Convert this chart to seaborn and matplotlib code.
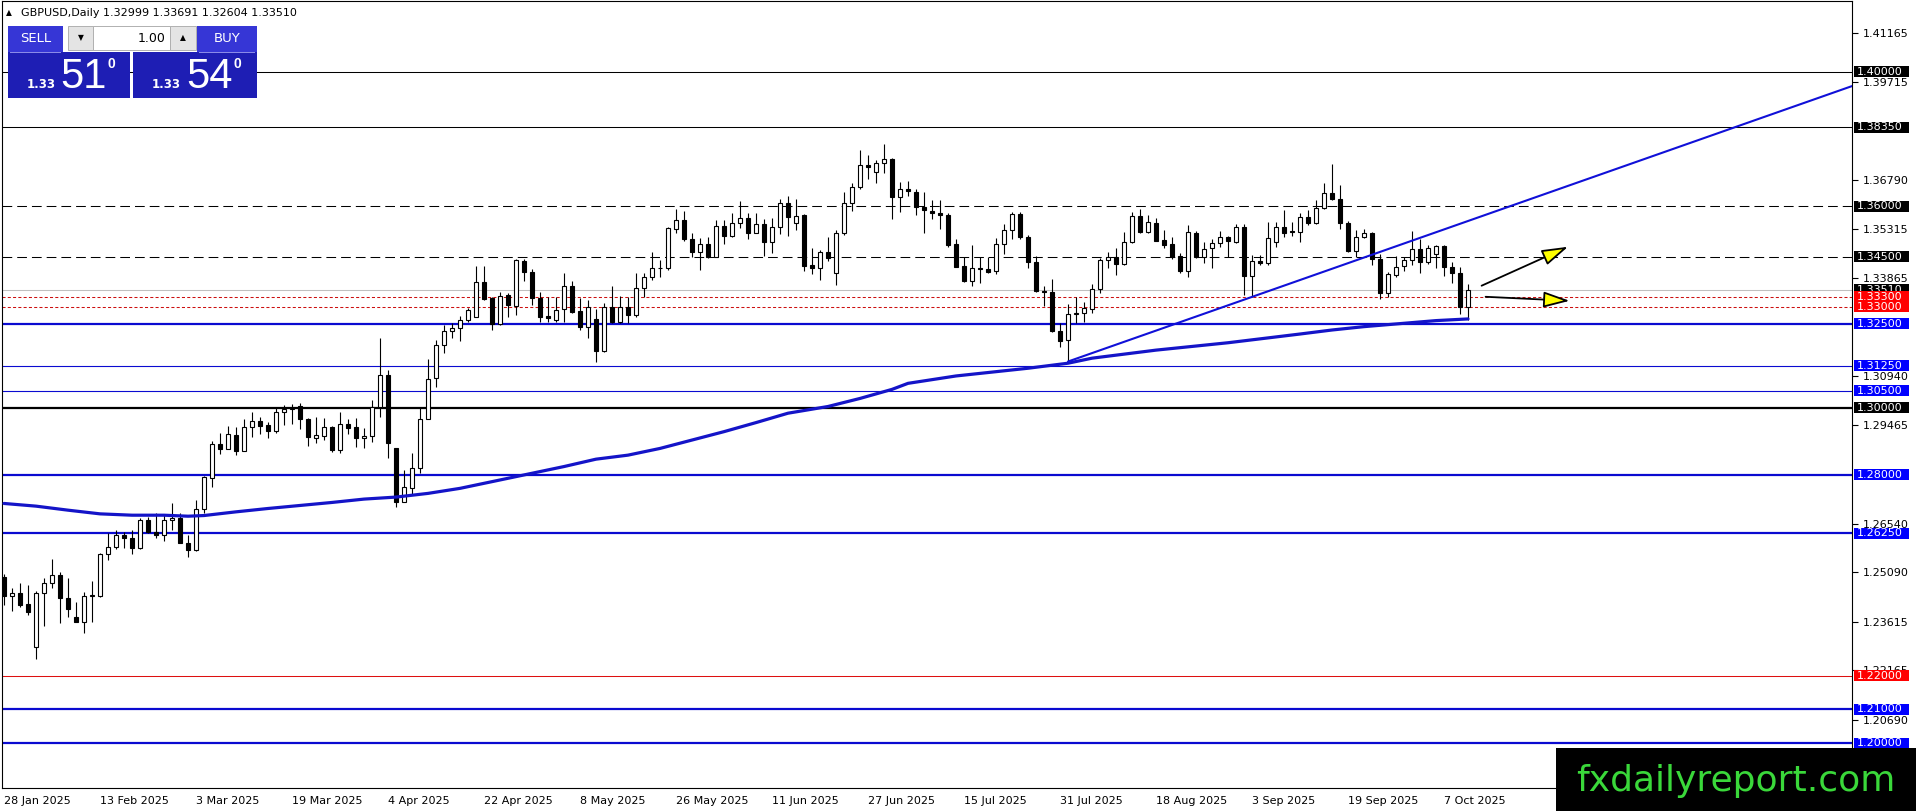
import numpy as np
import seaborn as sns
import matplotlib
matplotlib.use("Agg")
import matplotlib.pyplot as plt
import matplotlib.transforms as mtransforms
from matplotlib.patches import Rectangle

# GBPUSD daily candles, 28 Jan 2025 .. 10 Oct 2025 (one per weekday)
opens = [1.2496, 1.2439, 1.2446, 1.2414, 1.2285, 1.2446, 1.2476, 1.2500, 1.2431, 1.2377,
         1.2362, 1.2439, 1.2439, 1.2563, 1.2583, 1.2619, 1.2610, 1.2580, 1.2665, 1.2630,
         1.2620, 1.2665, 1.2670, 1.2595, 1.2575, 1.2696, 1.2789, 1.2890, 1.2875, 1.2918,
         1.2871, 1.2941, 1.2960, 1.2947, 1.2931, 1.2987, 1.2997, 1.3003, 1.2966, 1.2908,
         1.2916, 1.2942, 1.2872, 1.2950, 1.2943, 1.2910, 1.2916, 1.3001, 1.3097, 1.2880,
         1.2717, 1.2759, 1.2819, 1.2965, 1.3089, 1.3186, 1.3228, 1.3238, 1.3260, 1.3269,
         1.3373, 1.3325, 1.3249, 1.3335, 1.3303, 1.3437, 1.3403, 1.3327, 1.3272, 1.3261,
         1.3294, 1.3363, 1.3288, 1.3241, 1.3263, 1.3169, 1.3301, 1.3256, 1.3301, 1.3276,
         1.3355, 1.3390, 1.3415, 1.3415, 1.3531, 1.3559, 1.3501, 1.3464, 1.3487, 1.3450,
         1.3541, 1.3511, 1.3549, 1.3564, 1.3521, 1.3547, 1.3494, 1.3539, 1.3609, 1.3551,
         1.3574, 1.3425, 1.3415, 1.3462, 1.3400, 1.3519, 1.3609, 1.3658, 1.3723, 1.3703,
         1.3728, 1.3740, 1.3628, 1.3650, 1.3643, 1.3599, 1.3586, 1.3581, 1.3574, 1.3486,
         1.3421, 1.3378, 1.3417, 1.3413, 1.3408, 1.3486, 1.3529, 1.3577, 1.3507, 1.3433,
         1.3348, 1.3345, 1.3229, 1.3201, 1.3279, 1.3281, 1.3293, 1.3352, 1.3440, 1.3448,
         1.3428, 1.3494, 1.3571, 1.3524, 1.3551, 1.3499, 1.3487, 1.3452, 1.3408, 1.3521,
         1.3448, 1.3475, 1.3491, 1.3507, 1.3494, 1.3539, 1.3392, 1.3438, 1.3430, 1.3494,
         1.3539, 1.3527, 1.3524, 1.3567, 1.3549, 1.3594, 1.3640, 1.3621, 1.3549, 1.3465,
         1.3507, 1.3519, 1.3442, 1.3340, 1.3394, 1.3422, 1.3440, 1.3472, 1.3435, 1.3458,
         1.3481, 1.3420, 1.3400, 1.32999]
highs = [1.2505, 1.2461, 1.2476, 1.2471, 1.2454, 1.2491, 1.2549, 1.2511, 1.2491, 1.2419,
         1.2451, 1.2484, 1.2566, 1.2627, 1.2635, 1.2630, 1.2635, 1.2670, 1.2675, 1.2687,
         1.2680, 1.2716, 1.2687, 1.2620, 1.2724, 1.2796, 1.2901, 1.2923, 1.2945, 1.2943,
         1.2965, 1.2988, 1.2973, 1.2958, 1.2998, 1.3007, 1.3009, 1.3012, 1.2970, 1.2972,
         1.2968, 1.2944, 1.2988, 1.2966, 1.2969, 1.2940, 1.3022, 1.3206, 1.3112, 1.2880,
         1.2814, 1.2863, 1.2998, 1.3144, 1.3201, 1.3246, 1.3251, 1.3274, 1.3298, 1.3423,
         1.3423, 1.3330, 1.3345, 1.3340, 1.3443, 1.3443, 1.3413, 1.3343, 1.3330, 1.3330,
         1.3400, 1.3377, 1.3326, 1.3320, 1.3295, 1.3312, 1.3361, 1.3332, 1.3330, 1.3400,
         1.3400, 1.3464, 1.3440, 1.3537, 1.3591, 1.3587, 1.3519, 1.3504, 1.3507, 1.3559,
         1.3559, 1.3579, 1.3614, 1.3581, 1.3579, 1.3561, 1.3564, 1.3621, 1.3631, 1.3621,
         1.3577, 1.3474, 1.3469, 1.3507, 1.3529, 1.3643, 1.3670, 1.3768, 1.3753, 1.3738,
         1.3785, 1.3743, 1.3673, 1.3676, 1.3650, 1.3643, 1.3619, 1.3619, 1.3581, 1.3501,
         1.3448, 1.3484, 1.3448, 1.3448, 1.3504, 1.3547, 1.3584, 1.3584, 1.3514, 1.3452,
         1.3362, 1.3382, 1.3253, 1.3309, 1.3330, 1.3313, 1.3368, 1.3445, 1.3462, 1.3475,
         1.3524, 1.3584, 1.3591, 1.3574, 1.3564, 1.3529, 1.3507, 1.3460, 1.3544, 1.3527,
         1.3492, 1.3501, 1.3527, 1.3511, 1.3547, 1.3547, 1.3455, 1.3455, 1.3554, 1.3554,
         1.3589, 1.3554, 1.3579, 1.3589, 1.3617, 1.3668, 1.3726, 1.3663, 1.3557, 1.3529,
         1.3531, 1.3524, 1.3458, 1.3405, 1.3452, 1.3450, 1.3527, 1.3501, 1.3485, 1.3485,
         1.3484, 1.3435, 1.3418, 1.33691]
lows = [1.2411, 1.2392, 1.2406, 1.2382, 1.2249, 1.2349, 1.2461, 1.2359, 1.2375, 1.2362,
        1.2329, 1.2362, 1.2436, 1.2546, 1.2577, 1.2580, 1.2563, 1.2577, 1.2627, 1.2610,
        1.2603, 1.2635, 1.2595, 1.2555, 1.2573, 1.2685, 1.2764, 1.2861, 1.2875, 1.2858,
        1.2871, 1.2911, 1.2921, 1.2908, 1.2923, 1.2948, 1.2951, 1.2936, 1.2886, 1.2893,
        1.2903, 1.2868, 1.2865, 1.2920, 1.2883, 1.2878, 1.2898, 1.2971, 1.2850, 1.2704,
        1.2717, 1.2741, 1.2804, 1.2965, 1.3062, 1.3161, 1.3208, 1.3198, 1.3254, 1.3269,
        1.3320, 1.3231, 1.3246, 1.3271, 1.3276, 1.3377, 1.3305, 1.3256, 1.3256, 1.3256,
        1.3256, 1.3281, 1.3231, 1.3208, 1.3137, 1.3166, 1.3253, 1.3253, 1.3253, 1.3271,
        1.3330, 1.3380, 1.3388, 1.3410, 1.3521, 1.3497, 1.3448, 1.3410, 1.3445, 1.3448,
        1.3487, 1.3509, 1.3534, 1.3501, 1.3519, 1.3452, 1.3461, 1.3517, 1.3511, 1.3529,
        1.3408, 1.3398, 1.3380, 1.3438, 1.3365, 1.3514, 1.3587, 1.3650, 1.3680, 1.3670,
        1.3700, 1.3561, 1.3584, 1.3630, 1.3574, 1.3521, 1.3561, 1.3531, 1.3479, 1.3420,
        1.3375, 1.3362, 1.3372, 1.3402, 1.3398, 1.3458, 1.3501, 1.3501, 1.3415, 1.3345,
        1.3303, 1.3226, 1.3181, 1.3137, 1.3251, 1.3256, 1.3281, 1.3342, 1.3415, 1.3395,
        1.3425, 1.3491, 1.3521, 1.3521, 1.3497, 1.3474, 1.3442, 1.3402, 1.3388, 1.3445,
        1.3432, 1.3415, 1.3479, 1.3448, 1.3491, 1.3335, 1.3330, 1.3425, 1.3425, 1.3479,
        1.3509, 1.3511, 1.3494, 1.3544, 1.3547, 1.3591, 1.3619, 1.3531, 1.3462, 1.3448,
        1.3504, 1.3425, 1.3323, 1.3328, 1.3390, 1.3408, 1.3425, 1.3400, 1.3428, 1.3415,
        1.3392, 1.3372, 1.3279, 1.32604]
closes = [1.2439, 1.2446, 1.2411, 1.2389, 1.2446, 1.2476, 1.2500, 1.2431, 1.2398, 1.2362,
          1.2439, 1.2441, 1.2563, 1.2583, 1.2619, 1.2610, 1.2580, 1.2665, 1.2630, 1.2620,
          1.2665, 1.2670, 1.2595, 1.2575, 1.2696, 1.2794, 1.2890, 1.2875, 1.2920, 1.2871,
          1.2941, 1.2960, 1.2945, 1.2931, 1.2987, 1.2997, 1.2999, 1.2965, 1.2913, 1.2918,
          1.2942, 1.2872, 1.2950, 1.2938, 1.2910, 1.2916, 1.3001, 1.3097, 1.2893, 1.2717,
          1.2762, 1.2819, 1.2965, 1.3084, 1.3186, 1.3228, 1.3236, 1.3260, 1.3291, 1.3373,
          1.3324, 1.3249, 1.3333, 1.3307, 1.3440, 1.3403, 1.3325, 1.3271, 1.3266, 1.3291,
          1.3363, 1.3286, 1.3241, 1.3301, 1.3169, 1.3301, 1.3256, 1.3301, 1.3276, 1.3355,
          1.3390, 1.3415, 1.3417, 1.3534, 1.3559, 1.3501, 1.3464, 1.3487, 1.3448, 1.3541,
          1.3511, 1.3549, 1.3564, 1.3521, 1.3547, 1.3494, 1.3539, 1.3609, 1.3569, 1.3571,
          1.3422, 1.3415, 1.3462, 1.3445, 1.3519, 1.3609, 1.3658, 1.3723, 1.3716, 1.3728,
          1.3740, 1.3628, 1.3650, 1.3646, 1.3597, 1.3589, 1.3579, 1.3573, 1.3484, 1.3420,
          1.3378, 1.3415, 1.3412, 1.3405, 1.3486, 1.3529, 1.3577, 1.3507, 1.3435, 1.3348,
          1.3345, 1.3229, 1.3199, 1.3279, 1.3281, 1.3296, 1.3352, 1.3440, 1.3448, 1.3428,
          1.3494, 1.3571, 1.3524, 1.3554, 1.3497, 1.3484, 1.3448, 1.3408, 1.3524, 1.3448,
          1.3472, 1.3491, 1.3507, 1.3497, 1.3539, 1.3392, 1.3438, 1.3430, 1.3504, 1.3539,
          1.3521, 1.3523, 1.3567, 1.3551, 1.3594, 1.3640, 1.3621, 1.3549, 1.3465, 1.3507,
          1.3519, 1.3442, 1.3340, 1.3397, 1.3420, 1.3440, 1.3472, 1.3435, 1.3475, 1.3480,
          1.3420, 1.3400, 1.3299, 1.33510]

# moving average (bar index, value)
ma_idx = [0, 4, 8, 12, 16, 20, 23, 25, 29, 33, 37, 41, 45, 49, 53, 57, 61, 66, 70, 74,
          78, 82, 86, 90, 94, 98, 103, 107, 111, 113, 119, 128, 133, 136, 144, 153, 162,
          166, 170, 175, 179, 183]
ma_val = [1.2714, 1.2706, 1.2694, 1.2683, 1.2679, 1.2679, 1.2676, 1.2678, 1.2689, 1.2699,
          1.2708, 1.2717, 1.2727, 1.2733, 1.2744, 1.2759, 1.2779, 1.2804, 1.2824, 1.2846,
          1.2858, 1.2878, 1.2903, 1.2928, 1.2955, 1.2983, 1.3003, 1.3027, 1.3054, 1.3072,
          1.3094, 1.3117, 1.3132, 1.3147, 1.3171, 1.3193, 1.3219, 1.3231, 1.3241, 1.3251,
          1.3259, 1.3264]

# trend line from the 1 Aug low to the right edge
trend_x = [133, 231]
trend_y = [1.3137, 1.3958]

# arrows (start, end) in bar index / price
arrow_up = [(184.7, 1.3363), (195.5, 1.3479)]
arrow_flat = [(185.2, 1.3330), (195.7, 1.3318)]

date_idx = [0, 12, 24, 36, 48, 60, 72, 84, 96, 108, 120, 132, 144, 156, 168, 180]
date_labels = ["28 Jan 2025", "13 Feb 2025", "3 Mar 2025", "19 Mar 2025", "4 Apr 2025",
               "22 Apr 2025", "8 May 2025", "26 May 2025", "11 Jun 2025", "27 Jun 2025",
               "15 Jul 2025", "31 Jul 2025", "18 Aug 2025", "3 Sep 2025", "19 Sep 2025",
               "7 Oct 2025"]

ytick_vals = [1.41165, 1.39715, 1.36790, 1.35315, 1.33865, 1.30940, 1.29465,
              1.26540, 1.25090, 1.23615, 1.22165, 1.20690]

level_prices = [1.40, 1.3835, 1.36, 1.345, 1.3351, 1.333, 1.33, 1.325, 1.3125,
                1.305, 1.30, 1.28, 1.2625, 1.22, 1.21, 1.20]
level_labels = ["1.40000", "1.38350", "1.36000", "1.34500", "1.33510", "1.33300",
                "1.33000", "1.32500", "1.31250", "1.30500", "1.30000", "1.28000",
                "1.26250", "1.22000", "1.21000", "1.20000"]
level_kind = ["black", "black", "dash", "dash", "price", "reddot", "reddot", "bluethick",
              "blue", "blue", "blackthick", "bluethick", "bluethick", "red", "bluethick",
              "bluethick"]

BLUE = "#0a0ad0"
STYLES = {
    "black": dict(line=dict(color="black", lw=0.75), box="black"),
    "blackthick": dict(line=dict(color="black", lw=1.6), box="black"),
    "dash": dict(line=dict(color="black", lw=0.75, dashes=(7, 3.6)), box="black"),
    "price": dict(line=dict(color="#c0c0c0", lw=0.75), box="black"),
    "reddot": dict(line=dict(color="#cc1010", lw=0.75, dashes=(2.2, 1.6)), box="#ff0000"),
    "red": dict(line=dict(color="#dd1010", lw=0.75), box="#ff0000"),
    "blue": dict(line=dict(color=BLUE, lw=0.8), box="#0000ff"),
    "bluethick": dict(line=dict(color=BLUE, lw=1.6), box="#0000ff"),
}

W, H = 1916, 811
sns.set_style("white")
plt.rcParams["font.family"] = ["DejaVu Sans"]
plt.rcParams["lines.scale_dashes"] = False

fig = plt.figure(figsize=(W / 100, H / 100), dpi=100)
fig.patch.set_facecolor("white")
ax = fig.add_axes([2 / W, 23 / H, 1850 / W, 787 / H])
ax.set_facecolor("white")

ymin, ymax = 1.18659, 1.42116
ax.set_xlim(-0.25, 231.0)
ax.set_ylim(ymin, ymax)

# horizontal levels
for p, kind in zip(level_prices, level_kind):
    ax.axhline(p, zorder=1.5, **STYLES[kind]["line"])

# candles
o = np.array(opens)
h = np.array(highs)
l = np.array(lows)
c = np.array(closes)
idx = np.arange(len(o))
up = c >= o
ax.vlines(idx, l, h, color="black", lw=0.8, zorder=2)
ax.bar(idx[up], (c - o)[up], bottom=o[up], width=0.62, color="white",
       edgecolor="black", linewidth=0.8, zorder=3)
ax.bar(idx[~up], (o - c)[~up], bottom=c[~up], width=0.62, color="black",
       edgecolor="black", linewidth=0.8, zorder=3)

# moving average and trend line
sns.lineplot(x=ma_idx, y=ma_val, ax=ax, color="#1414c8", linewidth=2.3, zorder=4,
             sort=False)
sns.lineplot(x=trend_x, y=trend_y, ax=ax, color="#1010d8", linewidth=1.5, zorder=4,
             sort=False)

for start, end in (arrow_up, arrow_flat):
    ax.annotate("", xy=end, xytext=start, zorder=5,
                arrowprops=dict(arrowstyle="-|>,head_length=0.85,head_width=0.26",
                                mutation_scale=19, fc="#ffff00", ec="black", lw=1.3,
                                shrinkA=0, shrinkB=0))

# axes styling
for sp in ax.spines.values():
    sp.set_color("black")
    sp.set_linewidth(0.8)
ax.yaxis.tick_right()
ax.set_yticks(ytick_vals)
ax.set_yticklabels([f"{v:.5f}" for v in ytick_vals])
ax.tick_params(axis="y", right=True, left=False, labelright=True, labelleft=False,
               direction="out", length=4, width=0.8, pad=4, labelsize=8, colors="black")
ax.set_xticks(date_idx)
ax.set_xticklabels(date_labels, ha="left")
ax.tick_params(axis="x", direction="out", length=4, width=0.8, pad=2, labelsize=8,
               colors="black")
ax.grid(False)
ax.set_xlabel("")
ax.set_ylabel("")

# price labels on the right scale
trans = mtransforms.blended_transform_factory(ax.transAxes, ax.transData)
ppu = 787 / (ymax - ymin)
half = 5.5 / ppu
for k, (p, lab, kind) in enumerate(zip(level_prices, level_labels, level_kind)):
    ax.add_patch(Rectangle((1 + 1.5 / 1850, p - half), 55 / 1850, 2 * half,
                           transform=trans, facecolor=STYLES[kind]["box"],
                           edgecolor="none", clip_on=False, zorder=6 + k * 0.01))
    ax.text(1 + 5 / 1850, p, lab, transform=trans, ha="left", va="center",
            fontsize=8, color="white", clip_on=False, zorder=6.005 + k * 0.01)


# ---- overlay panel (pixel helpers, y measured from the top) ----
def px_rect(x0, y0, x1, y1, **kw):
    fig.add_artist(Rectangle((x0 / W, 1 - y1 / H), (x1 - x0) / W, (y1 - y0) / H,
                             transform=fig.transFigure, **kw))


def px_text(x, y, s, **kw):
    fig.text(x / W, 1 - y / H, s, **kw)


px_text(6, 13, "▲", fontsize=5.5, va="center", color="black")
px_text(21, 13, "GBPUSD,Daily 1.32999 1.33691 1.32604 1.33510", fontsize=8,
        va="center", color="black")

px_rect(8, 26, 63, 52, facecolor="#3636d6", edgecolor="none")
px_rect(197, 26, 257, 52, facecolor="#3636d6", edgecolor="none")
px_rect(68, 26, 93, 50, facecolor="#e4e4e4", edgecolor="#b0b0b0", lw=0.7)
px_rect(93, 26, 170, 50, facecolor="white", edgecolor="#b0b0b0", lw=0.7)
px_rect(170, 26, 196, 50, facecolor="#e4e4e4", edgecolor="#b0b0b0", lw=0.7)
px_rect(8, 52, 130, 98, facecolor="#1e1eb4", edgecolor="none")
px_rect(133, 52, 257, 98, facecolor="#1e1eb4", edgecolor="none")
px_rect(10, 51.5, 61, 52.5, facecolor="#8a8ae8", edgecolor="none")
px_rect(199, 51.5, 255, 52.5, facecolor="#8a8ae8", edgecolor="none")

px_text(35.5, 39, "SELL", fontsize=9.5, color="white", ha="center", va="center")
px_text(227, 39, "BUY", fontsize=9.5, color="white", ha="center", va="center")
px_text(80.5, 38, "▼", fontsize=5.5, color="black", ha="center", va="center")
px_text(183, 38, "▲", fontsize=5.5, color="black", ha="center", va="center")
px_text(166, 38, "1.00", fontsize=9, color="black", ha="right", va="center")

px_text(27, 88, "1.33", fontsize=8.5, fontweight="bold", color="white", va="baseline")
px_text(60, 88, "51", fontsize=30, color="white", va="baseline",
        family=["Liberation Sans", "DejaVu Sans"])
px_text(108, 68, "0", fontsize=10, fontweight="bold", color="white", va="baseline",
        family=["Liberation Sans", "DejaVu Sans"])
px_text(152, 88, "1.33", fontsize=8.5, fontweight="bold", color="white", va="baseline")
px_text(186, 88, "54", fontsize=30, color="white", va="baseline",
        family=["Liberation Sans", "DejaVu Sans"])
px_text(234, 68, "0", fontsize=10, fontweight="bold", color="white", va="baseline",
        family=["Liberation Sans", "DejaVu Sans"])

# watermark
px_rect(1556, 748, 1916, 811, facecolor="black", edgecolor="none")
px_text(1736, 781, "fxdailyreport.com", fontsize=26, color="#3ad83a", ha="center",
        va="center")

fig.savefig("out.png", dpi=100, facecolor="white")
